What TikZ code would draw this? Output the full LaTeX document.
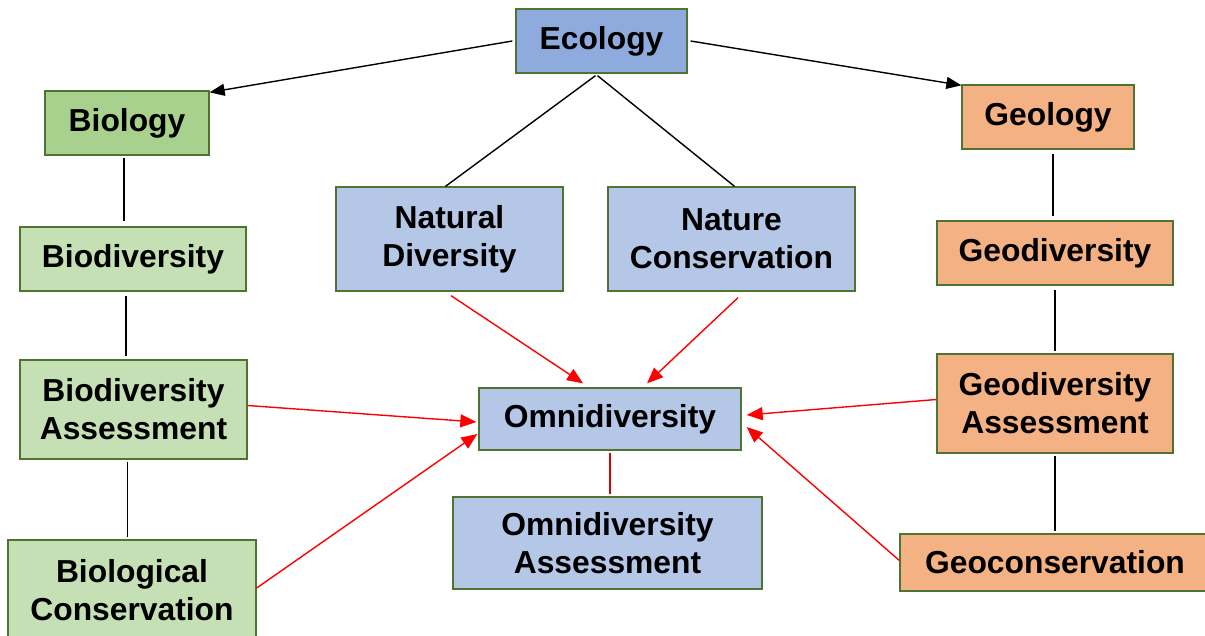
\documentclass[tikz,border=0pt]{standalone}
\usepackage{fontspec}
\setmainfont{Liberation Sans}
\usetikzlibrary{arrows.meta}
\definecolor{bordc}{HTML}{4F7330}
\definecolor{ecoc}{HTML}{8FAADC}
\definecolor{bluec}{HTML}{B4C7E7}
\definecolor{biolc}{HTML}{A9D18E}
\definecolor{greenc}{HTML}{C5E0B4}
\definecolor{orangec}{HTML}{F4B183}
\tikzset{
  box/.style={draw=bordc, line width=1.3pt, rectangle, inner sep=0pt, align=center,
    font=\fontsize{31.8}{38}\selectfont\bfseries},
  conn/.style={draw=black, line width=1.4pt},
  blackarrow/.style={conn, -{Triangle[length=15pt,width=12pt]}},
  redarrow/.style={draw=red, line width=1.4pt, -{Triangle[length=16pt,width=13pt]}},
  redline/.style={draw=red!85!black, line width=1.4pt}
}
\begin{document}
\begin{tikzpicture}[x=1pt,y=-1pt]
\useasboundingbox (0,0) rectangle (1205,636);
% nodes
\node[box, fill=ecoc, minimum width=171pt, minimum height=64pt] (eco) at (601.5,41) {Ecology};
\node[box, fill=biolc, minimum width=164pt, minimum height=64pt] (bio) at (127,123) {Biology};
\node[box, fill=orangec, minimum width=172pt, minimum height=64pt] (geo) at (1048,117) {Geology};
\node[box, fill=bluec, minimum width=227pt, minimum height=104pt] (nd) at (449.5,239) {Natural\\Diversity};
\node[box, fill=bluec, minimum width=247pt, minimum height=104pt] (nc) at (731.5,239) {Nature\\Conservation};
\node[box, fill=greenc, minimum width=226pt, minimum height=64pt] (biod) at (133,259) {Biodiversity};
\node[box, fill=orangec, minimum width=236pt, minimum height=64pt] (geod) at (1055,253) {Geodiversity};
\node[box, fill=greenc, minimum width=227pt, minimum height=99pt] (biodA) at (133.5,409.5) {Biodiversity\\Assessment};
\node[box, fill=bluec, minimum width=262pt, minimum height=62pt] (omni) at (610,419) {Omnidiversity};
\node[box, fill=orangec, minimum width=236pt, minimum height=99pt] (geodA) at (1055,403.5) {Geodiversity\\Assessment};
\node[box, fill=bluec, minimum width=309pt, minimum height=92pt] (omniA) at (607.5,543) {Omnidiversity\\Assessment};
\node[box, fill=greenc, minimum width=248pt, minimum height=100pt] (bioC) at (132,590) {Biological\\Conservation};
\node[box, fill=orangec, minimum width=310pt, minimum height=57pt] (geoC) at (1055,562.5) {Geoconservation};
% black connectors
\draw[blackarrow] ([xshift=-3pt]eco.west) -- ([yshift=-2pt]bio.north east);
\draw[blackarrow] ([xshift=3pt]eco.east) -- ([yshift=-1pt]geo.north west);
\draw[conn] ([xshift=-6pt,yshift=-2pt]eco.south) -- ([xshift=-4pt]nd.north);
\draw[conn] ([xshift=-4pt,yshift=-2pt]eco.south) -- ([xshift=3pt]nc.north);
\draw[conn] ([xshift=-3pt,yshift=-2pt]bio.south) -- ([xshift=-3pt,yshift=5pt]bio.south |- biod.north);
\draw[conn] ([xshift=-7pt,yshift=-4pt]biod.south) -- ([xshift=-7pt,yshift=3pt]biod.south |- biodA.north);
\draw[conn] ([xshift=-6pt,yshift=-2pt]biodA.south) -- ([xshift=-6pt,yshift=2pt]biodA.south |- bioC.north);
\draw[conn] ([xshift=5pt,yshift=-4pt]geo.south) -- ([xshift=5pt,yshift=4pt]geo.south |- geod.north);
\draw[conn] ([yshift=-4pt]geod.south) -- ([yshift=2pt]geod.south |- geodA.north);
\draw[conn] ([yshift=-2pt]geodA.south) -- ([yshift=2pt]geodA.south |- geoC.north);
% red connectors
\draw[redarrow] ([xshift=1.5pt,yshift=-4pt]nd.south) -- ([xshift=-27pt,yshift=4pt]omni.north);
\draw[redarrow] ([xshift=6.5pt,yshift=-6pt]nc.south) -- ([xshift=37pt,yshift=4pt]omni.north);
\draw[redarrow] ([yshift=4pt]biodA.east) -- ([xshift=-2pt,yshift=-3pt]omni.west);
\draw[redarrow] ([yshift=2pt]bioC.east) -- ([xshift=-1pt,yshift=-15pt]omni.west);
\draw[redarrow] ([yshift=4pt]geodA.west) -- ([xshift=5pt,yshift=4pt]omni.east);
\draw[redarrow] ([yshift=2pt]geoC.west) -- ([xshift=5pt,yshift=-8pt]omni.east);
\draw[redline] ([yshift=-2pt]omni.south) -- ([yshift=2pt]omni.south |- omniA.north);
\end{tikzpicture}
\end{document}
